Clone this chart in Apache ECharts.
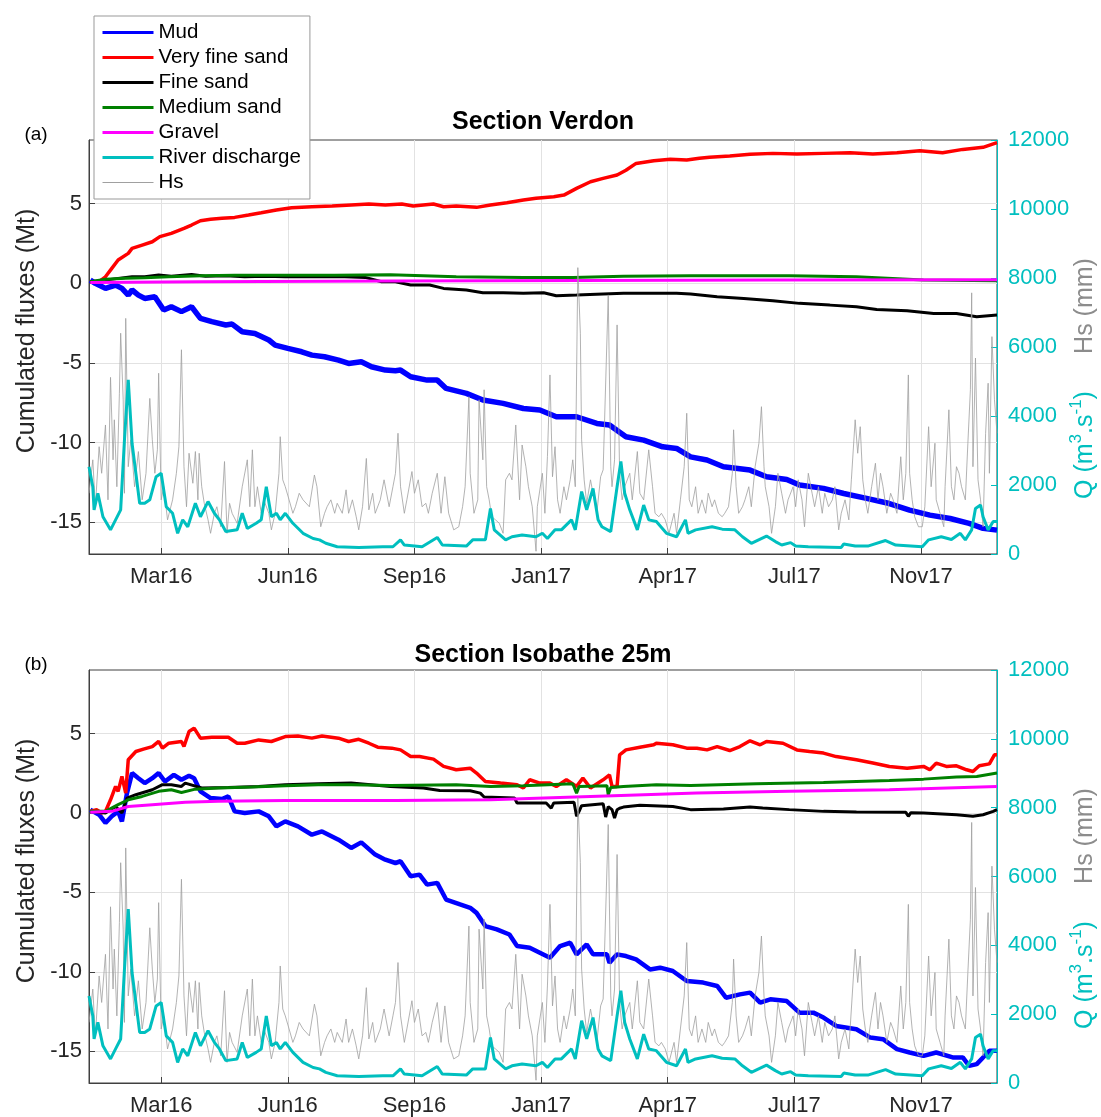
<!DOCTYPE html>
<html>
<head>
<meta charset="utf-8">
<script src="https://cdn.jsdelivr.net/npm/echarts@6/dist/echarts.min.js"></script>
<style>
  html, body { margin: 0; padding: 0; background: #fff; }
  #chart { width: 1101px; height: 1117px; }
</style>
</head>
<body>
<div id="chart"></div>
<script>
// x values are days counted from 1 Jan 2016
const tickDays = [70, 170, 270, 370, 470, 570, 670];
const fluxTicks = [-15, -10, -5, 0, 5];
const monthNames = ['Jan', 'Feb', 'Mar', 'Apr', 'May', 'Jun', 'Jul', 'Aug', 'Sep', 'Oct', 'Nov', 'Dec'];

// ---- Section Verdon (a) ----
const aMudDay = [14, 18, 26, 34, 39, 44, 47, 52, 57, 65, 72, 78, 86, 94, 101, 110, 121, 126, 134, 144, 155, 160, 170, 181, 189, 199, 210, 218, 228, 236, 247, 255, 259, 267, 280, 288, 295, 311, 324, 340, 356, 369, 382, 398, 414, 424, 437, 451, 466, 477, 488, 501, 514, 535, 548, 564, 574, 593, 609, 627, 645, 661, 677, 693, 708, 719, 730];
const aMudVal = [0.2, 0, -0.32, -0.11, -0.32, -0.74, -0.42, -0.74, -0.95, -0.84, -1.68, -1.47, -1.78, -1.47, -2.2, -2.41, -2.62, -2.56, -3.04, -3.15, -3.56, -3.88, -4.09, -4.3, -4.51, -4.61, -4.82, -5.03, -4.93, -5.24, -5.45, -5.49, -5.45, -5.87, -6.08, -6.08, -6.6, -6.91, -7.33, -7.54, -7.86, -7.96, -8.38, -8.38, -8.8, -8.9, -9.64, -9.85, -10.27, -10.37, -10.9, -11.1, -11.52, -11.73, -12.15, -12.32, -12.67, -12.88, -13.2, -13.51, -13.83, -14.24, -14.56, -14.77, -15.08, -15.39, -15.5];

const aVfsDay = [14, 21, 26, 31, 36, 44, 47, 55, 63, 69, 78, 88, 94, 101, 109, 118, 128, 139, 149, 161, 173, 189, 205, 220, 234, 247, 260, 269, 285, 293, 303, 319, 330, 343, 356, 366, 380, 388, 398, 409, 419, 430, 437, 445, 459, 472, 485, 495, 503, 519, 535, 553, 572, 593, 614, 632, 651, 669, 687, 703, 719, 730];
const aVfsVal = [0.1, 0.1, 0.41, 0.94, 1.46, 1.88, 2.19, 2.4, 2.61, 2.93, 3.14, 3.45, 3.66, 3.93, 4.02, 4.08, 4.14, 4.29, 4.43, 4.6, 4.75, 4.81, 4.85, 4.92, 4.98, 4.92, 4.98, 4.85, 4.98, 4.81, 4.85, 4.77, 4.92, 5.06, 5.23, 5.34, 5.44, 5.54, 5.96, 6.38, 6.59, 6.8, 7.1, 7.53, 7.7, 7.79, 7.74, 7.85, 7.91, 7.99, 8.1, 8.16, 8.12, 8.16, 8.2, 8.12, 8.2, 8.33, 8.2, 8.41, 8.54, 8.83];

const aFsDay = [14, 26, 36, 47, 57, 68, 78, 94, 105, 121, 136, 152, 168, 184, 199, 215, 231, 244, 255, 267, 282, 293, 311, 324, 340, 356, 372, 382, 398, 419, 435, 456, 477, 488, 509, 530, 553, 574, 598, 619, 635, 659, 680, 698, 714, 730];
const aFsVal = [0.1, 0.2, 0.31, 0.41, 0.41, 0.52, 0.45, 0.56, 0.45, 0.48, 0.41, 0.45, 0.41, 0.41, 0.41, 0.41, 0.37, 0.1, 0.1, -0.11, -0.11, -0.32, -0.42, -0.59, -0.59, -0.63, -0.59, -0.78, -0.74, -0.67, -0.63, -0.63, -0.63, -0.67, -0.84, -0.95, -1.09, -1.26, -1.37, -1.47, -1.64, -1.72, -1.89, -1.89, -2.1, -1.99];

const aMsDay = [14, 26, 42, 57, 76, 102, 128, 168, 207, 251, 303, 356, 395, 435, 488, 566, 619, 672, 730];
const aMsVal = [0.1, 0.25, 0.31, 0.35, 0.41, 0.48, 0.5, 0.5, 0.5, 0.54, 0.41, 0.37, 0.37, 0.45, 0.48, 0.48, 0.41, 0.2, 0.16];

const aGrDay = [14, 100, 250, 400, 550, 730];
const aGrVal = [0.05, 0.1, 0.15, 0.18, 0.2, 0.22];

// ---- Section Isobathe 25m (b) ----
const bMudDay = [14, 21, 26, 31, 36, 39, 43, 47, 52, 57, 63, 68, 73, 80, 86, 92, 96, 101, 109, 118, 123, 128, 136, 147, 155, 161, 168, 178, 189, 197, 210, 220, 228, 239, 247, 255, 259, 267, 274, 280, 288, 295, 306, 314, 319, 326, 335, 345, 351, 361, 369, 377, 385, 393, 398, 406, 411, 422, 424, 430, 437, 445, 456, 464, 474, 485, 498, 509, 516, 527, 535, 543, 551, 564, 574, 585, 593, 603, 619, 630, 640, 651, 661, 672, 682, 695, 703, 708, 714, 719, 724, 730];
const bMudVal = [0.2, -0.11, -0.63, -0.21, 0.1, -0.53, 1.25, 2.51, 2.19, 1.88, 2.19, 2.51, 1.98, 2.4, 2.09, 2.34, 2.19, 1.36, 0.94, 0.88, 1.04, 0.1, 0, 0.1, -0.21, -0.84, -0.53, -0.84, -1.37, -1.16, -1.68, -2.2, -1.85, -2.62, -2.94, -3.15, -3.04, -3.98, -3.88, -4.51, -4.4, -5.45, -5.76, -5.97, -6.29, -7.12, -7.33, -7.65, -8.38, -8.49, -8.8, -9.11, -8.38, -8.17, -8.9, -8.28, -8.9, -8.9, -9.43, -8.9, -9.01, -9.22, -9.85, -9.74, -9.95, -10.58, -10.68, -10.89, -11.63, -11.42, -11.31, -11.94, -11.73, -11.84, -12.57, -12.57, -12.88, -13.41, -13.62, -14.14, -14.24, -14.87, -15.08, -15.29, -15.08, -15.39, -15.39, -15.92, -15.81, -15.39, -14.97, -14.97];

const bVfsDay = [14, 19, 23, 26, 30, 34, 36, 39, 42, 44, 50, 56, 63, 68, 71, 76, 86, 88, 92, 96, 101, 110, 123, 130, 136, 147, 157, 168, 178, 189, 197, 210, 218, 226, 234, 241, 252, 259, 267, 274, 285, 293, 303, 314, 319, 326, 338, 351, 356, 361, 369, 377, 382, 390, 398, 403, 409, 419, 424, 426, 430, 432, 437, 448, 459, 461, 474, 485, 493, 501, 509, 519, 527, 535, 543, 548, 561, 572, 582, 593, 603, 619, 632, 645, 659, 672, 677, 682, 690, 698, 706, 711, 716, 724, 728, 730];
const bVfsVal = [0.1, 0.2, 0, 0.1, 0.83, 1.67, 1.36, 2.3, 1.25, 3.35, 3.87, 4.02, 4.18, 4.5, 4.08, 4.39, 4.5, 4.18, 5.13, 5.34, 4.71, 4.77, 4.77, 4.39, 4.39, 4.6, 4.5, 4.81, 4.85, 4.71, 4.85, 4.71, 4.5, 4.64, 4.39, 4.14, 4.08, 3.97, 3.55, 3.55, 3.39, 2.93, 2.72, 2.82, 2.51, 1.98, 1.88, 1.78, 1.57, 2.09, 1.88, 1.88, 1.67, 2.09, 1.67, 2.19, 1.57, 2.09, 2.4, 1.67, 1.67, 3.66, 3.97, 4.14, 4.29, 4.39, 4.29, 4.08, 4.08, 3.97, 4.18, 3.93, 4.18, 4.54, 4.29, 4.5, 4.39, 3.97, 3.87, 3.77, 3.55, 3.35, 3.14, 2.93, 2.82, 2.93, 2.72, 3.14, 2.93, 2.97, 2.72, 2.61, 2.97, 3.09, 3.66, 3.66];

const bFsDay = [14, 26, 34, 39, 43, 50, 63, 71, 78, 86, 89, 102, 123, 147, 168, 194, 220, 251, 277, 290, 314, 322, 325, 349, 351, 374, 378, 380, 396, 398, 400, 402, 419, 421, 423, 426, 428, 430, 432, 435, 448, 474, 488, 514, 535, 545, 566, 593, 619, 658, 660, 662, 672, 698, 711, 719, 727, 730];
const bFsVal = [0.1, 0, 0.41, 0, 0.94, 1.15, 1.46, 1.78, 1.78, 1.67, 1.88, 1.57, 1.61, 1.67, 1.78, 1.84, 1.88, 1.67, 1.57, 1.42, 1.4, 1.25, 1.0, 0.94, 0.63, 0.63, 0.3, 0.63, 0.67, -0.21, 0.1, 0.46, 0.58, -0.26, 0.4, 0.21, -0.32, 0.2, 0.3, 0.37, 0.48, 0.41, 0.21, 0.25, 0.37, 0.31, 0.21, 0.1, 0.06, 0.04, -0.21, 0.02, 0, -0.11, -0.21, -0.11, 0.1, 0.21];

const bMsDay = [14, 26, 36, 44, 55, 68, 78, 86, 97, 115, 142, 168, 194, 220, 251, 303, 330, 356, 395, 398, 400, 422, 423, 425, 435, 461, 488, 540, 593, 645, 672, 698, 714, 730];
const bMsVal = [0.1, 0.1, 0.52, 0.83, 1.04, 1.36, 1.46, 1.29, 1.5, 1.57, 1.63, 1.71, 1.78, 1.78, 1.73, 1.78, 1.67, 1.71, 1.84, 1.25, 1.67, 1.71, 1.15, 1.6, 1.67, 1.78, 1.73, 1.84, 1.92, 2.05, 2.13, 2.26, 2.3, 2.51];

const bGrDay = [14, 31, 44, 63, 89, 115, 168, 255, 330, 409, 493, 566, 645, 730];
const bGrVal = [0.04, 0.1, 0.41, 0.52, 0.67, 0.73, 0.79, 0.79, 0.83, 1.04, 1.25, 1.36, 1.46, 1.67];

// ---- forcing, same in both panels (right axis) ----
const qDay = [13, 16, 17, 20, 24, 30, 34, 38, 41, 44, 47, 53, 57, 61, 66, 70, 74, 79, 83, 87, 91, 97, 101, 107, 112, 116, 121, 130, 134, 138, 145, 149, 153, 157, 161, 164, 168, 174, 182, 190, 195, 200, 209, 226, 245, 253, 259, 262, 276, 288, 292, 311, 316, 326, 330, 333, 342, 347, 355, 366, 371, 375, 381, 386, 394, 397, 402, 406, 411, 415, 418, 425, 430, 433, 436, 440, 446, 451, 455, 461, 469, 477, 484, 486, 492, 505, 513, 523, 529, 536, 548, 555, 560, 567, 571, 581, 607, 609, 618, 628, 642, 650, 671, 676, 686, 694, 701, 705, 710, 713, 717, 719, 723, 727, 730];
const qVal = [2530, 1950, 1280, 1760, 1080, 700, 990, 1280, 3310, 5050, 3210, 1470, 1470, 1570, 2240, 2340, 1370, 1180, 600, 990, 790, 1470, 1080, 1520, 1180, 990, 650, 700, 1180, 740, 890, 990, 1950, 1080, 1180, 990, 1180, 890, 600, 450, 410, 310, 210, 190, 210, 210, 410, 260, 210, 480, 260, 230, 410, 410, 1320, 700, 410, 500, 550, 500, 600, 450, 700, 700, 990, 700, 1810, 1280, 1900, 990, 790, 650, 1950, 2680, 1760, 1280, 700, 1420, 990, 940, 600, 500, 990, 600, 700, 790, 720, 700, 500, 310, 520, 360, 260, 330, 230, 210, 190, 290, 230, 230, 390, 260, 210, 410, 500, 420, 600, 410, 700, 1320, 1420, 1080, 700, 940, 940];

const hsDay = [13, 16, 18, 21, 23, 26, 28, 30, 32, 33, 35, 37, 38, 40, 41, 42, 44, 46, 49, 52, 55, 58, 61, 63, 65, 67, 68, 70, 72, 75, 79, 82, 84, 86, 88, 90, 92, 95, 97, 99, 100, 102, 104, 107, 109, 112, 114, 117, 120, 122, 124, 126, 130, 134, 138, 140, 142, 144, 146, 149, 151, 155, 157, 160, 163, 164, 166, 168, 171, 174, 176, 179, 182, 187, 191, 193, 196, 199, 201, 204, 207, 209, 213, 216, 218, 221, 224, 226, 229, 232, 234, 237, 239, 243, 246, 250, 253, 255, 257, 259, 262, 264, 268, 270, 273, 276, 279, 281, 284, 288, 291, 294, 297, 301, 305, 308, 310, 313, 314, 317, 320, 321, 324, 325, 327, 329, 331, 334, 337, 340, 342, 345, 347, 350, 353, 355, 358, 360, 363, 366, 367,
  371, 373, 375, 377, 379, 381, 383, 385, 388, 390, 393, 395, 397, 399, 401, 402, 404, 406, 409, 411, 414, 417, 419, 423, 425, 426, 428, 430, 432, 434, 436, 440, 442, 446, 448, 451, 455, 458, 460, 463, 465, 468, 471, 475, 477, 480, 483, 485, 487, 489, 492, 494, 497, 500, 502, 505, 507, 510, 513, 515, 518, 521, 522, 524, 526, 529, 531, 534, 536, 539, 542, 544, 546, 547, 550, 552, 555, 557, 560, 563, 565, 569, 571, 573, 576, 578, 581, 584, 586, 589, 592, 594, 597, 600, 602, 605, 607, 610, 613, 615, 618, 620, 622, 624, 626, 628, 631, 634, 636, 638, 640, 643, 646, 648, 651, 654, 656, 658, 660, 661, 663, 665, 668, 671, 673, 676, 678, 681, 682, 685, 688, 689, 692, 694, 696, 698, 700, 702, 705, 707, 709, 710, 711, 713, 715, 717, 719, 721, 723, 724, 726, 728, 730];
const hsVal = [1760, 2730, 1370, 3110, 2340, 3740, 1570, 5120, 2730, 3890, 1950, 4660, 6400, 4470, 1760, 6830, 2530, 3310, 1950, 2970, 1570, 2340, 4510, 3310, 2340, 3020, 5240, 1570, 1950, 990, 1570, 2340, 3110, 5920, 2530, 1370, 2920, 2050, 2970, 1570, 2920, 1950, 1470, 990, 600, 1180, 1370, 790, 2680, 600, 1470, 1180, 890, 1950, 2730, 1370, 3020, 1370, 1950, 1180, 1570, 1180, 700, 1180, 2340, 3400, 2150, 1950, 1570, 1180, 1370, 1760, 1570, 1370, 2290, 1950, 790, 1180, 1370, 1570, 1180, 1470, 1180, 1860, 1180, 1570, 1080, 700, 1370, 2770, 1280, 1760, 1180, 1570, 2150, 1370, 1950, 2340, 3500, 1950, 1180, 1570, 2390, 1760, 2150, 1370, 1470, 1180, 1760, 2340, 1180, 2240, 1180, 700, 790, 1370, 1950, 4560, 2340, 1180, 1570, 4470, 2730, 4760, 1950, 1570, 1080, 990, 890, 600, 2150, 2340, 2150, 3740, 1570, 3160, 2530, 1950, 1370, 80, 1370,
  2340, 1180, 2820, 5190, 2240, 3110, 1570, 1180, 1950, 1570, 2150, 2730, 1950, 8300, 6400, 3310, 2150, 1470, 2150, 1760, 1180, 2240, 2440, 7510, 2530, 1950, 2730, 6640, 2340, 1570, 1950, 2340, 1570, 2970, 1760, 1570, 3020, 1950, 1180, 1080, 1180, 990, 600, 1180, 600, 1570, 2530, 4080, 1570, 1370, 1950, 1180, 1570, 1180, 1760, 1370, 1570, 1180, 1080, 1180, 1370, 2340, 3600, 1950, 1180, 1370, 1570, 1950, 1370, 2530, 3210, 4270, 2530, 1950, 1370, 600, 1370, 2340, 1760, 1180, 1570, 1950, 1370, 2150, 1570, 790, 2340, 1760, 1370, 1950, 1180, 1760, 1370, 1570, 1950, 700, 1180, 1570, 990, 2150, 3890, 2920, 3690, 2150, 1570, 1180, 1950, 2630, 1570, 2340, 1950, 1180, 1760, 1570, 1180, 2820, 1570, 2340, 5190, 2340, 1570, 1080, 790, 790, 1370, 3690, 1950, 3210, 1570, 1180, 790, 1950, 4180, 1950, 1570, 2530, 2340, 1950, 1570, 3210, 4760, 7570, 2530, 5680, 2150, 1570, 790, 3500, 4950, 2340, 6300, 4470, 3500];

const FONT = '"Liberation Sans", Arial, Helvetica, sans-serif';
const AXIS_COLOR = '#404040';
const CYAN = '#00BFBF';
const GRAY = '#a0a0a0';

function pairs(days, vals) {
  return days.map((d, i) => [d, vals[i]]);
}

function dayLabel(d) {
  const t = new Date(Date.UTC(2016, 0, 1) + d * 86400000);
  return monthNames[t.getUTCMonth()] + String(t.getUTCFullYear()).slice(2);
}

function line(name, days, vals, color, width, axis, z) {
  return {
    name: name, type: 'line', xAxisIndex: axis[0], yAxisIndex: axis[1],
    data: pairs(days, vals), symbol: 'none', showSymbol: false,
    lineStyle: { color: color, width: width }, itemStyle: { color: color },
    z: z, silent: true
  };
}

function xAxisFor(g) {
  return {
    type: 'value', gridIndex: g, min: 13, max: 730,
    axisLine: { show: true, onZero: false, lineStyle: { color: AXIS_COLOR } },
    axisTick: { show: true, inside: true, length: 6, customValues: tickDays, lineStyle: { color: AXIS_COLOR } },
    axisLabel: { customValues: tickDays, formatter: dayLabel, fontSize: 22, fontFamily: FONT, color: '#262626', margin: 12 },
    splitLine: { show: true, lineStyle: { color: '#e2e2e2', width: 1 } }
  };
}

function leftAxisFor(g) {
  return {
    type: 'value', gridIndex: g, position: 'left', min: -17, max: 9,
    axisLine: { show: true, lineStyle: { color: AXIS_COLOR } },
    axisTick: { show: true, inside: true, length: 6, customValues: fluxTicks, lineStyle: { color: AXIS_COLOR } },
    axisLabel: { customValues: fluxTicks, fontSize: 22, fontFamily: FONT, color: '#262626', margin: 7 },
    splitLine: { show: true, lineStyle: { color: '#e2e2e2', width: 1 } }
  };
}

function rightAxisFor(g) {
  return {
    type: 'value', gridIndex: g, position: 'right', min: 0, max: 12000, interval: 2000,
    axisLine: { show: true, lineStyle: { color: CYAN } },
    axisTick: { show: true, inside: true, length: 6, lineStyle: { color: CYAN } },
    axisLabel: { fontSize: 22, fontFamily: FONT, color: CYAN, margin: 11, formatter: v => String(v) },
    splitLine: { show: false }
  };
}

function panel(g, mud, vfs, fs, ms, gr, mudWidth) {
  const L = [g, g * 2], R = [g, g * 2 + 1];
  return [
    line('Mud', mud[0], mud[1], '#0000ff', mudWidth, L, 2),
    line('Very fine sand', vfs[0], vfs[1], '#ff0000', 3.5, L, 2),
    line('Fine sand', fs[0], fs[1], '#000000', 3, L, 2),
    line('Medium sand', ms[0], ms[1], '#008000', 3, L, 2),
    line('Gravel', gr[0], gr[1], '#ff00ff', 3, L, 2),
    line('Hs', hsDay, hsVal, GRAY, 0.8, R, 3),
    line('River discharge', qDay, qVal, CYAN, 3, R, 4)
  ];
}

function label(text, x, y, size, color, opts) {
  const o = opts || {};
  const el = {
    type: 'text', x: x, y: y, silent: true, z: 10,
    style: { text: text, fill: color, font: (o.bold ? 'bold ' : '') + size + 'px ' + FONT, align: 'center', verticalAlign: 'middle' }
  };
  if (o.rotate) el.rotation = Math.PI / 2;
  if (o.rich) el.style.rich = o.rich;
  return el;
}

// Q axis name with raised exponents
const qRich = {
  a: { fontSize: 25, fontFamily: FONT, color: CYAN, lineHeight: 30, verticalAlign: 'bottom' },
  s: { fontSize: 17, fontFamily: FONT, color: CYAN, lineHeight: 30, verticalAlign: 'top' }
};
const qName = '{a|Q (m}{s|3}{a|.s}{s|-1}{a|)}';

const chart = echarts.init(document.getElementById('chart'), null, { renderer: 'canvas' });

chart.setOption({
  animation: false,
  backgroundColor: '#ffffff',
  grid: [
    { left: 89, top: 140, width: 908, height: 414, show: true, borderColor: AXIS_COLOR, borderWidth: 1, containLabel: false },
    { left: 89, top: 670, width: 908, height: 414, show: true, borderColor: AXIS_COLOR, borderWidth: 1, containLabel: false }
  ],
  xAxis: [xAxisFor(0), xAxisFor(1)],
  yAxis: [leftAxisFor(0), rightAxisFor(0), leftAxisFor(1), rightAxisFor(1)],
  legend: {
    left: 94, top: 16, orient: 'vertical',
    padding: [6, 9, 6, 7], itemGap: 4, itemWidth: 51, itemHeight: 14, itemTextGap: 6,
    backgroundColor: '#ffffff', borderColor: '#999999', borderWidth: 1, borderRadius: 0,
    textStyle: { fontSize: 20.5, fontFamily: FONT, color: '#000000', lineHeight: 21 },
    itemStyle: { opacity: 0 },
    data: [
      { name: 'Mud', lineStyle: { width: 3 } },
      { name: 'Very fine sand', lineStyle: { width: 3 } },
      { name: 'Fine sand', lineStyle: { width: 3 } },
      { name: 'Medium sand', lineStyle: { width: 3 } },
      { name: 'Gravel', lineStyle: { width: 3 } },
      { name: 'River discharge', lineStyle: { width: 3 } },
      { name: 'Hs', lineStyle: { width: 1 } }
    ],
    z: 20
  },
  graphic: [
    label('Section Verdon', 543, 122, 25, '#000000', { bold: true }),
    label('Section Isobathe 25m', 543, 655, 25, '#000000', { bold: true }),
    label('(a)', 36, 135, 19, '#000000'),
    label('(b)', 36, 665, 19, '#000000'),
    label('Cumulated fluxes (Mt)', 27, 331, 25, '#262626', { rotate: true }),
    label('Cumulated fluxes (Mt)', 27, 861, 25, '#262626', { rotate: true }),
    label('Hs (mm)', 1085, 306, 25, '#8c8c8c', { rotate: true }),
    label(qName, 1083, 445, 25, CYAN, { rotate: true, rich: qRich }),
    label('Hs (mm)', 1085, 836, 25, '#8c8c8c', { rotate: true }),
    label(qName, 1083, 975, 25, CYAN, { rotate: true, rich: qRich })
  ],
  series: [].concat(
    panel(0, [aMudDay, aMudVal], [aVfsDay, aVfsVal], [aFsDay, aFsVal], [aMsDay, aMsVal], [aGrDay, aGrVal], 5.5),
    panel(1, [bMudDay, bMudVal], [bVfsDay, bVfsVal], [bFsDay, bFsVal], [bMsDay, bMsVal], [bGrDay, bGrVal], 4.5)
  )
});
</script>
</body>
</html>
